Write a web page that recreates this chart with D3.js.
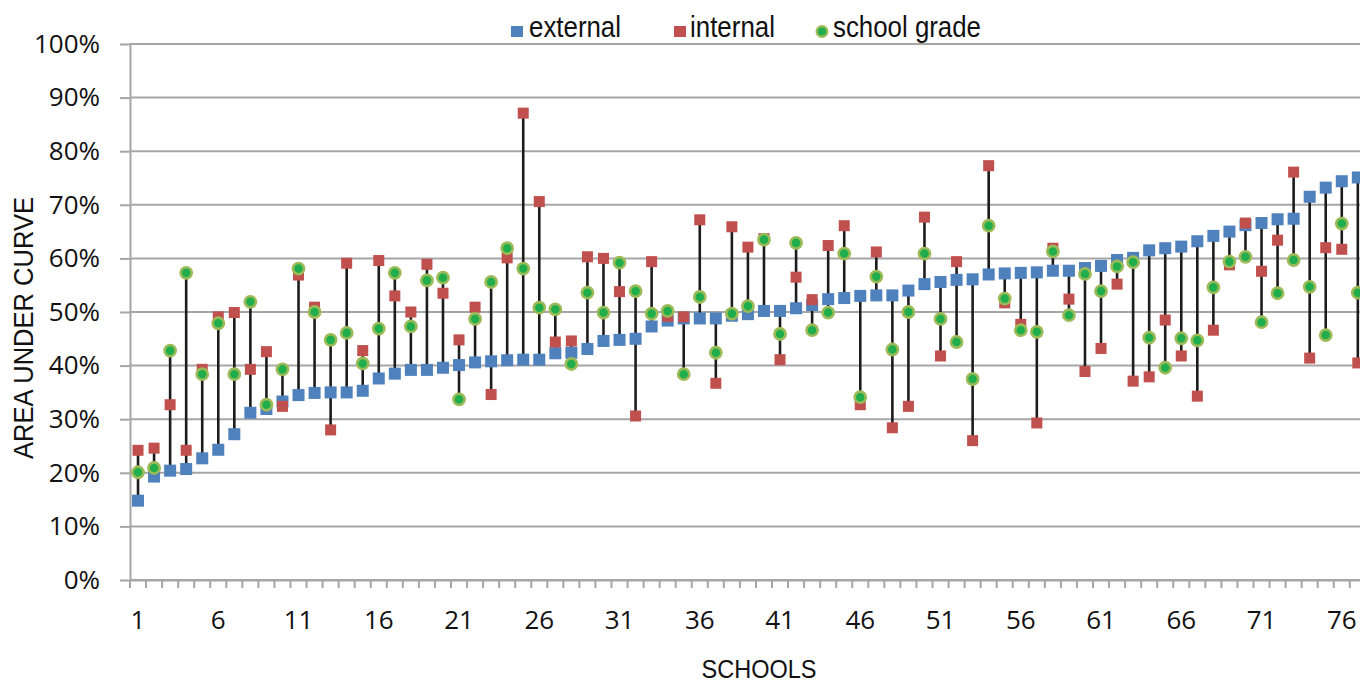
<!DOCTYPE html>
<html>
<head>
<meta charset="utf-8">
<script src="https://cdn.jsdelivr.net/npm/d3@7"></script>
<style>
  html, body { margin: 0; padding: 0; background: #fff; }
  svg { display: block; }
  .tick-label { font-family: "Open Sans", "DejaVu Sans", sans-serif; font-size: 26px; fill: #111; }
  .narrow { font-family: "Liberation Sans Narrow", "Arial Narrow", "Liberation Sans", Arial, sans-serif; fill: #111; }
</style>
</head>
<body>
<svg id="chart" width="1360" height="682"></svg>
<script>
// Area under curve per school (percent), schools sorted by the external score
const schools = d3.range(1, 78);
const external = [14.8,19.3,20.4,20.7,22.7,24.3,27.2,31.2,31.9,33.3,34.5,34.9,35.0,35.0,35.3,37.6,38.5,39.2,39.2,39.6,
  40.1,40.6,40.8,41.0,41.1,41.1,42.3,42.4,43.1,44.6,44.8,45.0,47.3,48.4,48.8,48.8,48.8,49.3,49.6,50.2,
  50.2,50.7,51.3,52.4,52.6,53.0,53.1,53.1,54.0,55.2,55.6,56.0,56.1,57.0,57.2,57.3,57.4,57.7,57.7,58.2,
  58.6,59.7,60.1,61.5,61.9,62.2,63.2,64.2,65.0,66.2,66.6,67.3,67.4,71.5,73.2,74.4,75.1];
const internal = [24.2,24.6,32.7,24.2,39.3,49.1,49.9,39.3,42.6,32.4,56.9,50.9,28.0,59.1,42.8,59.6,53.0,50.0,58.9,53.5,
  44.8,50.9,34.6,60.1,87.1,70.6,44.4,44.6,60.3,60.0,53.8,30.6,59.4,49.2,49.1,67.2,36.7,65.9,62.1,63.7,
  41.1,56.5,52.3,62.4,66.1,32.7,61.2,28.4,32.4,67.7,41.8,59.4,26.0,77.3,51.7,47.7,29.3,61.9,52.4,38.9,
  43.2,55.2,37.1,37.9,48.5,41.8,34.3,46.6,58.8,66.6,57.6,63.4,76.1,41.4,62.0,61.7,40.5];
const schoolGrade = [20.1,20.9,42.8,57.3,38.4,47.9,38.4,51.9,32.7,39.3,58.1,50.0,44.8,46.1,40.4,46.9,57.3,47.3,55.9,56.4,
  33.7,48.7,55.6,61.9,58.1,50.8,50.5,40.3,53.6,49.9,59.2,53.9,49.7,50.2,38.4,52.8,42.4,49.7,51.1,63.5,
  45.9,62.9,46.6,49.9,60.9,34.1,56.6,43.0,50.0,60.9,48.7,44.4,37.5,66.1,52.5,46.6,46.3,61.3,49.4,57.1,
  53.9,58.5,59.3,45.2,39.6,45.1,44.7,54.6,59.4,60.3,48.1,53.5,59.7,54.7,45.7,66.5,53.6];
const yTicks = d3.range(0, 101, 10);
const xLabelStep = 5;

const rows = schools.map((s, i) => ({
  school: s, external: external[i], internal: internal[i], grade: schoolGrade[i]
}));

const svg = d3.select("#chart");
const plotLeft = 130, plotTop = 44, plotBottom = 580, plotRight = 1360;
const bandW = 16.05;

const x = d3.scaleBand().domain(schools).range([plotLeft, plotLeft + schools.length * bandW]).padding(0);
const cx = s => x(s) + x.bandwidth() / 2;
const y = d3.scaleLinear().domain([0, 100]).range([plotBottom, plotTop]);

const gridColor = "#a6a6a6";

// horizontal gridlines
svg.append("g").selectAll("line").data(yTicks).join("line")
  .attr("x1", plotLeft).attr("x2", plotRight)
  .attr("y1", d => y(d)).attr("y2", d => y(d))
  .attr("stroke", gridColor).attr("stroke-width", 2);

// y axis
const yAxis = svg.append("g").attr("transform", `translate(${plotLeft},0)`)
  .call(d3.axisLeft(y).tickValues(yTicks).tickFormat(d => d + "%").tickSize(10).tickPadding(20).tickSizeOuter(0));
yAxis.select(".domain").attr("stroke", gridColor).attr("stroke-width", 2);
yAxis.selectAll(".tick line").attr("stroke", gridColor).attr("stroke-width", 2);
yAxis.selectAll("text").attr("class", "tick-label").attr("font-family", null).attr("font-size", null);

// x axis: labels every fifth school, ticks on category boundaries
const xAxis = svg.append("g").attr("transform", `translate(0,${plotBottom})`)
  .call(d3.axisBottom(x).tickValues(schools.filter(s => (s - 1) % xLabelStep === 0)).tickSize(0).tickSizeOuter(0));
xAxis.select(".domain").attr("stroke", gridColor).attr("stroke-width", 2);
xAxis.selectAll("text").attr("class", "tick-label").attr("font-family", null).attr("font-size", null)
  .attr("y", 49).attr("dy", 0);
const bounds = schools.map(s => x(s)).concat([x(schools[schools.length - 1]) + x.bandwidth()]);
svg.append("g").selectAll("line").data(bounds).join("line")
  .attr("x1", d => d).attr("x2", d => d)
  .attr("y1", plotBottom).attr("y2", plotBottom + 8)
  .attr("stroke", gridColor).attr("stroke-width", 2);

// high-low lines
svg.append("g").selectAll("line").data(rows).join("line")
  .attr("x1", d => cx(d.school)).attr("x2", d => cx(d.school))
  .attr("y1", d => y(Math.max(d.external, d.internal, d.grade)))
  .attr("y2", d => y(Math.min(d.external, d.internal, d.grade)))
  .attr("stroke", "#1c1c1c").attr("stroke-width", 2.6);

const blue = "#4f81bd", red = "#c0504d", greenFill = "#1fae4b", greenEdge = "#9bbb59";
const sq = 12, sqR = 11;

svg.append("g").selectAll("rect").data(rows).join("rect")
  .attr("x", d => cx(d.school) - sq / 2).attr("y", d => y(d.external) - sq / 2)
  .attr("width", sq).attr("height", sq).attr("fill", blue);

svg.append("g").selectAll("rect").data(rows).join("rect")
  .attr("x", d => cx(d.school) - sqR / 2).attr("y", d => y(d.internal) - sqR / 2)
  .attr("width", sqR).attr("height", sqR).attr("fill", red);

svg.append("g").selectAll("circle").data(rows).join("circle")
  .attr("cx", d => cx(d.school)).attr("cy", d => y(d.grade)).attr("r", 5.6)
  .attr("fill", greenFill).attr("stroke", greenEdge).attr("stroke-width", 2.6);

// legend
const legend = svg.append("g");
legend.append("rect").attr("x", 511).attr("y", 26).attr("width", 12).attr("height", 11).attr("fill", blue);
legend.append("text").attr("class", "narrow").attr("x", 529).attr("y", 36.5)
  .attr("font-size", 30).attr("textLength", 92).attr("lengthAdjust", "spacingAndGlyphs").text("external");
legend.append("rect").attr("x", 674).attr("y", 26).attr("width", 12).attr("height", 11).attr("fill", red);
legend.append("text").attr("class", "narrow").attr("x", 690).attr("y", 36.5)
  .attr("font-size", 30).attr("textLength", 85).attr("lengthAdjust", "spacingAndGlyphs").text("internal");
legend.append("circle").attr("cx", 822).attr("cy", 31.5).attr("r", 5.3)
  .attr("fill", greenFill).attr("stroke", greenEdge).attr("stroke-width", 2.4);
legend.append("text").attr("class", "narrow").attr("x", 833).attr("y", 36.5)
  .attr("font-size", 30).attr("textLength", 148).attr("lengthAdjust", "spacingAndGlyphs").text("school grade");

// axis titles
svg.append("text").attr("class", "narrow")
  .attr("transform", "translate(33,328) rotate(-90)")
  .attr("text-anchor", "middle").attr("font-size", 28)
  .attr("textLength", 262).attr("lengthAdjust", "spacingAndGlyphs")
  .text("AREA UNDER CURVE");
svg.append("text").attr("class", "narrow")
  .attr("x", 759).attr("y", 678).attr("text-anchor", "middle").attr("font-size", 25)
  .attr("textLength", 115).attr("lengthAdjust", "spacingAndGlyphs")
  .text("SCHOOLS");
</script>
</body>
</html>
